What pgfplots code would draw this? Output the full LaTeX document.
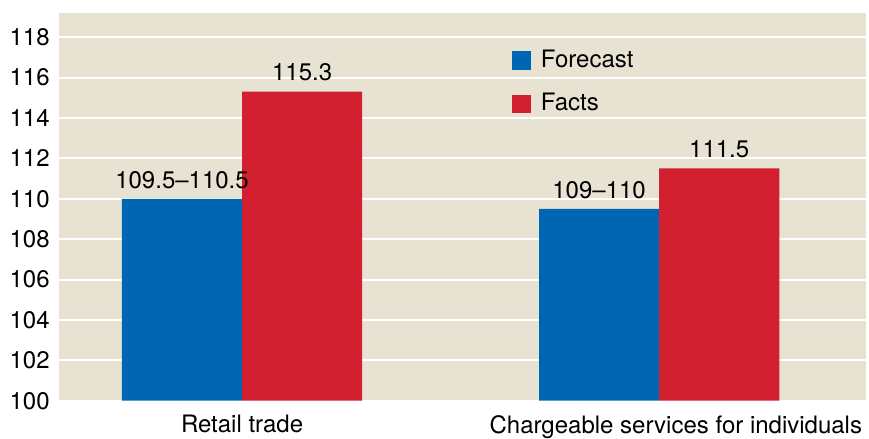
\documentclass[border=0pt]{standalone}
\usepackage{pgfplots}
\pgfplotsset{compat=1.18}
\usepackage{fontspec}
\setmainfont{TeX Gyre Heros}
\definecolor{fcblue}{HTML}{0066B3}
\definecolor{fcred}{HTML}{D22030}
\definecolor{bgbeige}{HTML}{E8E2D2}
\begin{document}
\fontsize{12}{14}\selectfont
\begin{tikzpicture}
\useasboundingbox (-29.5pt,-19.15pt) rectangle (405pt,200.35pt);
\begin{axis}[
  at={(0,0)}, anchor=south west,
  scale only axis, width=403.5pt, height=193.85pt,
  xmin=-0.439, xmax=1.496,
  ymin=100, ymax=119.2,
  ytick={100,102,...,118},
  xtick={0,1.04},
  xticklabels={Retail trade, Chargeable services for individuals},
  /pgf/number format/assume math mode=true,
  tick label style={font=\fontsize{12}{14}\selectfont},
  yticklabel style={xshift=-0.5pt},
  xticklabel style={yshift=-3pt},
  major tick length=0pt,
  axis line style={draw=none},
  axis background/.style={fill=bgbeige},
  ymajorgrids, major grid style={white, line width=1pt},
  ybar, bar width=0.288,
  nodes near coords, point meta=explicit symbolic,
  every node near coord/.append style={font=\fontsize{12}{14}\selectfont, black, yshift=1pt},
  legend style={draw=none, fill=none, at={(rel axis cs:0.561,0.821)}, anchor=west,
    font=\fontsize{12}{14}\selectfont, row sep=7pt, inner sep=0pt, column sep=3pt,
    nodes={inner sep=2pt}},
  legend cell align=left,
  legend image code/.code={\fill[#1] (0pt,-4.7pt) rectangle (9.4pt,4.7pt);},
]
\addplot[fill=fcblue, draw=none, bar shift=-0.144] coordinates {(0,110) [109.5–110.5] (1,109.5) [109–110]};
\addplot[fill=fcred, draw=none, bar shift=0.144] coordinates {(0,115.3) [115.3] (1,111.5) [111.5]};
\legend{Forecast, Facts}
\end{axis}
\end{tikzpicture}
\end{document}
